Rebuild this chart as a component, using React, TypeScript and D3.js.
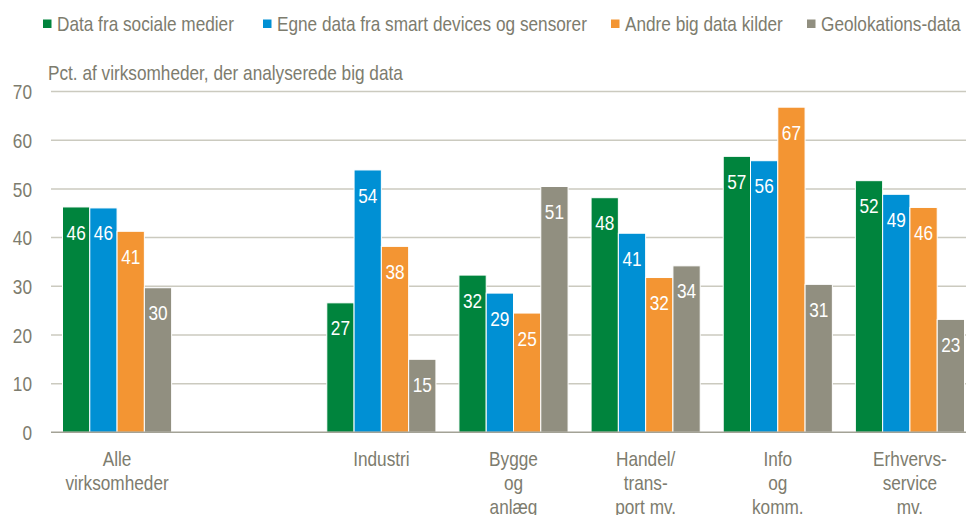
import React from "react";
import * as d3 from "d3";

const categories = ["Alle virksomheder", "", "Industri", "Bygge og anlæg", "Handel/ trans- port mv.", "Info og komm.", "Erhvervs- service mv."];
const categoryLines = [["Alle", "virksomheder"], [], ["Industri"], ["Bygge", "og", "anlæg"], ["Handel/", "trans-", "port mv."], ["Info", "og", "komm."], ["Erhvervs-", "service", "mv."]];
const seriesNames = ["Data fra sociale medier", "Egne data fra smart devices og sensorer", "Andre big data kilder", "Geolokations-data"];
const socialeMedier = [46.3, null, 26.6, 32.3, 48.2, 56.7, 51.7];
const smartDevices = [46.1, null, 53.9, 28.6, 40.9, 55.8, 48.9];
const andreKilder = [41.3, null, 38.2, 24.5, 31.8, 66.8, 46.2];
const geolokation = [29.7, null, 15.0, 50.5, 34.2, 30.4, 23.2];
const valueLabels = [
  ["46", "", "27", "32", "48", "57", "52"],
  ["46", "", "54", "29", "41", "56", "49"],
  ["41", "", "38", "25", "32", "67", "46"],
  ["30", "", "15", "51", "34", "31", "23"],
];
const yTicks = [0, 10, 20, 30, 40, 50, 60, 70];
const yTitle = "Pct. af virksomheder, der analyserede big data";

const colors = ["#00843d", "#0090d4", "#f39533", "#918f80"];
const series = [socialeMedier, smartDevices, andreKilder, geolokation];
const FONT = "'Liberation Sans', Arial, sans-serif";
const TEXT = "#7d7c6e";
const SX = 0.82;

function NText({ x, y, anchor = "start", size = 21, fill = TEXT, dy, children }: any) {
  return (
    <text transform={`translate(${x},${y}) scale(${SX},1)`} textAnchor={anchor} fontSize={size} fill={fill} dy={dy}>
      {children}
    </text>
  );
}

export default function App() {
  const W = 966, H = 515;
  const left = 51, right = 976, top = 91.6, bottom = 432.3;
  const x = d3.scaleBand<number>().domain(d3.range(categories.length)).range([left, right]).paddingInner(0).paddingOuter(0);
  const y = d3.scaleLinear().domain([0, 70]).range([bottom, top]);
  const groupPad = 11.5;
  const inner = d3.scaleBand<number>().domain(d3.range(4)).range([0, x.bandwidth() - 2 * groupPad]).paddingInner(0);

  const legendX = [43, 263, 611, 807];

  return (
    <svg width={W} height={H} style={{ position: "absolute", left: 0, top: 0, background: "#fff" }} fontFamily={FONT}>
      {/* legend */}
      {seriesNames.map((n, i) => (
        <g key={n}>
          <rect x={legendX[i]} y={19.5} width={8.5} height={8.5} fill={colors[i]} />
          <NText x={legendX[i] + 14} y={31}>{n}</NText>
        </g>
      ))}
      <NText x={48} y={80}>{yTitle}</NText>
      {/* gridlines */}
      {yTicks.map((t) => (
        <g key={t}>
          {t > 0 && <line x1={left} x2={W} y1={y(t)} y2={y(t)} stroke="#cbcabf" strokeWidth={1.5} />}
          <NText x={32} y={y(t)} dy="0.36em" anchor="end">{t}</NText>
        </g>
      ))}
      {/* bars */}
      {series.map((s, si) =>
        s.map((v, ci) => {
          if (v == null) return null;
          const bx = (x(ci) as number) + groupPad + (inner(si) as number);
          const bw = inner.bandwidth();
          return (
            <g key={si + "-" + ci}>
              <rect x={bx} y={y(v)} width={bw} height={y(0) - y(v)} fill={colors[si]} stroke="#fff" strokeWidth={1} />
              <NText x={bx + bw / 2} y={y(v) + 25} dy="0.36em" anchor="middle" fill="#fff">{valueLabels[si][ci]}</NText>
            </g>
          );
        })
      )}
      <line x1={left} x2={W} y1={y(0)} y2={y(0)} stroke="#a3a296" strokeWidth={1.5} />
      {/* x labels */}
      {categoryLines.map((lines, ci) =>
        lines.map((l, li) => (
          <NText key={ci + "-" + li} x={(x(ci) as number) + x.bandwidth() / 2} y={466 + li * 24} anchor="middle">{l}</NText>
        ))
      )}
    </svg>
  );
}
